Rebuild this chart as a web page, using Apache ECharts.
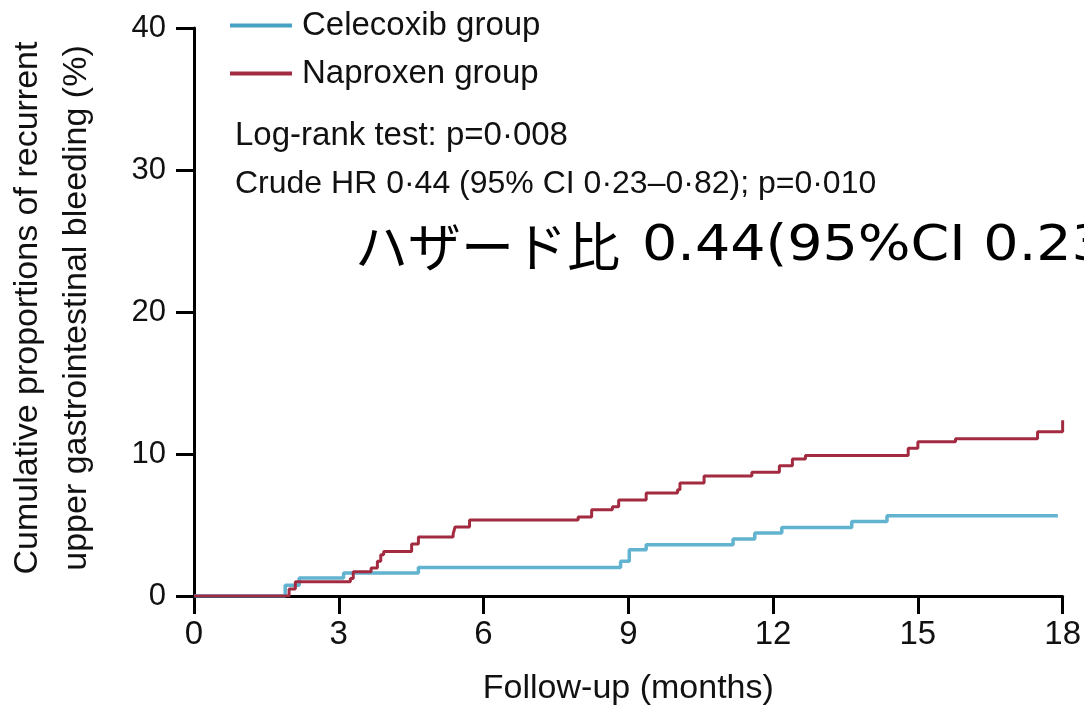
<!DOCTYPE html>
<html>
<head>
<meta charset="utf-8">
<script src="https://cdn.jsdelivr.net/npm/echarts@6/dist/echarts.min.js"></script>
<style>
html,body{margin:0;padding:0;background:#fff;}
#c{width:1084px;height:711px;}
</style>
</head>
<body>
<div id="c"></div>
<script>
// ---- data ----
const seriesNames = ['Celecoxib group', 'Naproxen group'];

const celecoxibMonths = [0, 1.89, 2.18, 3.10, 4.65, 8.84, 9.02, 9.37, 11.17, 11.62, 12.18, 13.63, 14.36, 17.90];
const celecoxibPct    = [0, 0.75, 1.27, 1.62, 2.01, 2.44, 3.26, 3.61, 4.01, 4.44, 4.83, 5.25, 5.65, 5.65];

const naproxenMonths = [0, 1.97, 2.10, 3.24, 3.30, 3.67, 3.80, 3.87, 3.93, 4.51, 4.65, 5.37, 5.41, 5.71, 7.96, 8.24, 8.67, 8.80, 9.37, 10.02, 10.07, 10.57, 11.56, 12.13, 12.40, 12.67, 14.80, 15.00, 15.78, 17.48, 18.00];
const naproxenPct    = [0, 0.50, 1.00, 1.24, 1.70, 1.97, 2.44, 2.90, 3.14, 3.66, 4.15, 4.37, 4.86, 5.35, 5.56, 6.08, 6.29, 6.76, 7.25, 7.49, 7.96, 8.45, 8.71, 9.18, 9.65, 9.90, 10.40, 10.87, 11.08, 11.57, 12.37];

const xTickValues = [0, 3, 6, 9, 12, 15, 18];
const yTickValues = [0, 10, 20, 30, 40];

const yTitleLines = ['Cumulative proportions of recurrent', 'upper gastrointestinal bleeding (%)'];
const xTitle = 'Follow-up (months)';
const note1 = 'Log-rank test: p=0\u00b7008';
const note2 = 'Crude HR 0\u00b744 (95% CI 0\u00b723\u20130\u00b782); p=0\u00b7010';
const noteJaWord = '\u30cf\u30b6\u30fc\u30c9\u6bd4';
const noteJaNums = '0.44(95%CI 0.23\u20130.82)';

// ---- chart ----
const FONT = "'Liberation Sans', Arial, sans-serif";
const chart = echarts.init(document.getElementById('c'), null, {renderer: 'canvas'});

const pairs = (xs, ys) => xs.map((x, i) => [x, ys[i]]);

chart.setOption({
  animation: false,
  backgroundColor: '#ffffff',
  grid: {left: 194, right: 18, top: 28, bottom: 115, containLabel: false},
  legend: {
    show: true,
    orient: 'vertical',
    left: 225,
    top: 4,
    itemWidth: 62,
    itemHeight: 4,
    itemGap: 15,
    icon: 'rect',
    data: seriesNames,
    textStyle: {fontFamily: FONT, fontSize: 33, color: '#111', lineHeight: 33, padding: [0, 0, 0, 5]}
  },
  xAxis: {
    type: 'value',
    min: 0, max: 18, interval: 3,
    name: xTitle,
    nameLocation: 'middle',
    nameGap: 76,
    nameTextStyle: {fontFamily: FONT, fontSize: 34, color: '#111'},
    axisLine: {show: true, onZero: false, lineStyle: {color: '#000', width: 3}},
    axisTick: {show: true, inside: false, length: 18, lineStyle: {color: '#000', width: 3}},
    axisLabel: {
      show: true, margin: 22, fontFamily: FONT, fontSize: 33, color: '#111',
      formatter: v => (xTickValues.indexOf(v) >= 0 ? String(v) : '')
    },
    splitLine: {show: false}
  },
  yAxis: {
    type: 'value',
    min: 0, max: 40, interval: 10,
    axisLine: {show: true, onZero: false, lineStyle: {color: '#000', width: 3}},
    axisTick: {show: true, inside: false, length: 18, lineStyle: {color: '#000', width: 3}},
    axisLabel: {
      show: true, margin: 28, fontFamily: FONT, fontSize: 31, color: '#111',
      formatter: v => (yTickValues.indexOf(v) >= 0 ? String(v) : '')
    },
    splitLine: {show: false}
  },
  series: [
    {
      name: seriesNames[0],
      type: 'line',
      step: 'end',
      symbol: 'none',
      showSymbol: false,
      itemStyle: {color: '#46a1c4'},
      lineStyle: {color: '#62b3d0', width: 3.5},
      data: pairs(celecoxibMonths, celecoxibPct),
      z: 2
    },
    {
      name: seriesNames[1],
      type: 'line',
      step: 'end',
      symbol: 'none',
      showSymbol: false,
      itemStyle: {color: '#a22b41'},
      lineStyle: {color: '#a22b41', width: 3},
      data: pairs(naproxenMonths, naproxenPct),
      z: 3
    }
  ],
  graphic: [
    {type: 'text', x: 28, y: 308, rotation: Math.PI / 2,
     style: {text: yTitleLines[0], font: '34px ' + FONT, fill: '#111', align: 'center', verticalAlign: 'middle'}},
    {type: 'text', x: 77, y: 308, rotation: Math.PI / 2,
     style: {text: yTitleLines[1], font: '34px ' + FONT, fill: '#111', align: 'center', verticalAlign: 'middle'}},
    {type: 'text', x: 235, y: 136,
     style: {text: note1, font: '33px ' + FONT, fill: '#111', align: 'left', verticalAlign: 'middle'}},
    {type: 'text', x: 235, y: 184,
     style: {text: note2, font: '32px ' + FONT, fill: '#111', align: 'left', verticalAlign: 'middle'}},
    {type: 'text', x: 355, y: 247,
     style: {text: noteJaWord, font: "53px 'Noto Sans CJK JP', sans-serif", fill: '#000', align: 'left', verticalAlign: 'middle'}},
    {type: 'text', x: 642, y: 247, scaleX: 1.11, scaleY: 1,
     style: {text: noteJaNums, font: "50px 'DejaVu Sans', sans-serif", fill: '#000', align: 'left', verticalAlign: 'middle'}}
  ]
});
</script>
</body>
</html>
